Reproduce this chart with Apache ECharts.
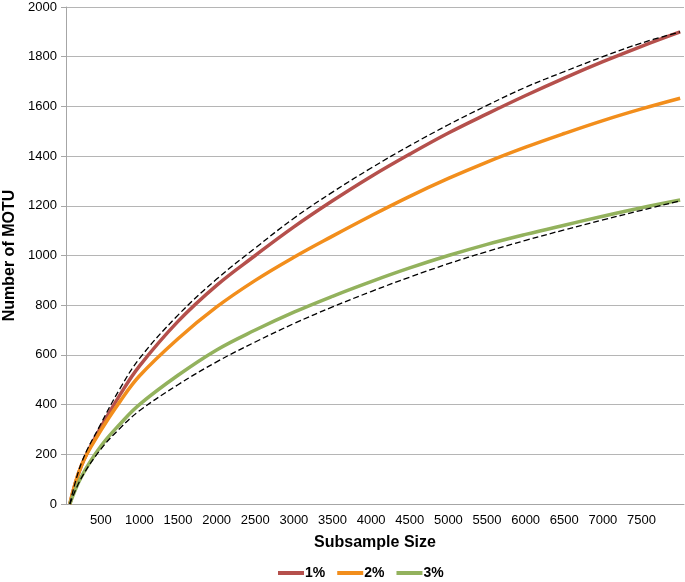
<!DOCTYPE html>
<html>
<head>
<meta charset="utf-8">
<script src="https://cdn.jsdelivr.net/npm/echarts@6/dist/echarts.min.js"></script>
<style>
  html, body { margin: 0; padding: 0; background: #fff; }
  #chart { width: 685px; height: 582px; }
</style>
</head>
<body>
<div id="chart"></div>
<script>
const sizes = [100, 250, 500, 750, 1000, 1500, 2000, 2500, 3000, 3500, 4000, 4500, 5000, 5500, 6000, 6500, 7000, 7500, 8000];

// observed curves
const motu1 = [0, 155, 308, 440, 555, 735, 880, 1000, 1115, 1220, 1318, 1408, 1493, 1570, 1644, 1714, 1780, 1842, 1900];
const motu2 = [0, 155, 295, 413, 515, 665, 793, 900, 993, 1078, 1160, 1238, 1310, 1376, 1436, 1491, 1543, 1590, 1633];
const motu3 = [0, 110, 232, 322, 400, 518, 620, 700, 772, 836, 895, 950, 1000, 1045, 1085, 1122, 1158, 1192, 1223];

// dashed fitted curves
const fitUpper = [0, 165, 322, 465, 585, 760, 905, 1030, 1150, 1255, 1352, 1442, 1526, 1604, 1677, 1740, 1800, 1855, 1900];
const fitLower = [0, 105, 220, 305, 375, 480, 572, 652, 726, 793, 855, 913, 967, 1016, 1061, 1103, 1143, 1182, 1220];

// category labels of the x axis (Excel style, one per 100)
const xCategories = [];
for (let c = 100; c <= 8000; c += 100) xCategories.push(String(c));

const pairs = ys => sizes.map((s, i) => [s, ys[i]]);

const chart = echarts.init(document.getElementById('chart'));
const font = '"Liberation Sans", Arial, Helvetica, sans-serif';

const colorLine = (name, data, color) => ({
  name, type: 'line', xAxisIndex: 1, data: pairs(data),
  smooth: 0.4, symbol: 'none',
  lineStyle: { color, width: 3.5 }, itemStyle: { color }
});
const fitLine = (name, data) => ({
  name, type: 'line', xAxisIndex: 1, data: pairs(data),
  smooth: 0.4, symbol: 'none', z: 3,
  lineStyle: { color: '#000', width: 1.3, type: [6, 3] }
});

chart.setOption({
  animation: false,
  textStyle: { fontFamily: font },
  grid: { left: 66, right: 1, top: 7, bottom: 78, outerBoundsMode: 'none', containLabel: false },
  legend: {
    data: ['1%', '2%', '3%'],
    top: 561, left: 273,
    icon: 'rect', itemWidth: 26, itemHeight: 4, itemGap: 12,
    textStyle: { fontFamily: font, fontSize: 14, fontWeight: 'bold', color: '#000', padding: [0, 0, 0, -4] }
  },
  xAxis: [
    {
      type: 'category',
      data: xCategories,
      boundaryGap: true,
      name: 'Subsample Size',
      nameLocation: 'middle',
      nameGap: 31,
      nameTextStyle: { fontFamily: font, fontSize: 16, fontWeight: 'bold', color: '#000' },
      axisLine: { lineStyle: { color: '#a6a6a6' } },
      axisTick: { interval: 0, length: 4, lineStyle: { color: '#a6a6a6' } },
      axisLabel: {
        interval: (i, v) => Number(v) % 500 === 0 && Number(v) < 8000,
        fontSize: 13, color: '#000', margin: 10
      },
      splitLine: { show: false }
    },
    { type: 'value', min: 50, max: 8050, show: false }
  ],
  yAxis: {
    type: 'value',
    min: 0, max: 2000, interval: 200,
    name: 'Number of MOTU',
    nameLocation: 'middle',
    nameGap: 45,
    nameTextStyle: { fontFamily: font, fontSize: 16, fontWeight: 'bold', color: '#000' },
    axisLine: { show: true, lineStyle: { color: '#a6a6a6' } },
    axisTick: { show: true, length: 5, lineStyle: { color: '#a6a6a6' } },
    axisLabel: { fontSize: 13, color: '#000', margin: 9, formatter: v => String(v) },
    splitLine: { lineStyle: { color: '#b5b5b5', width: 1 } }
  },
  series: [
    colorLine('1%', motu1, '#b5504c'),
    colorLine('2%', motu2, '#f28e1c'),
    colorLine('3%', motu3, '#93b25d'),
    fitLine('fit upper', fitUpper),
    fitLine('fit lower', fitLower)
  ]
});
</script>
</body>
</html>
